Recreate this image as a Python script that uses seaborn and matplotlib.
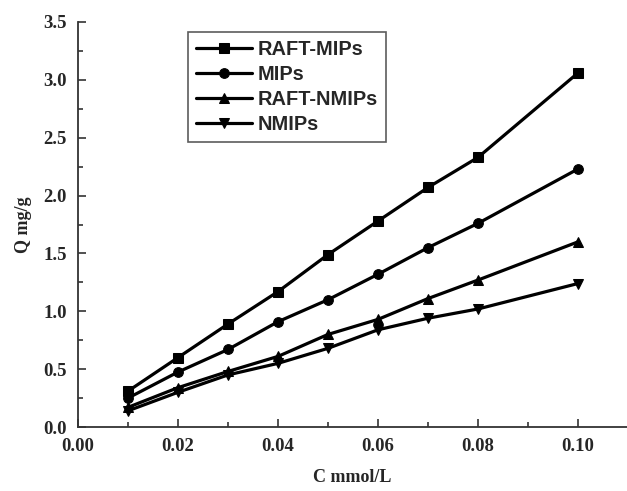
import numpy as np
import pandas as pd
import matplotlib
matplotlib.use("Agg")
import matplotlib.pyplot as plt
import seaborn as sns
from matplotlib.ticker import MultipleLocator

conc = [0.01, 0.02, 0.03, 0.04, 0.05, 0.06, 0.07, 0.08, 0.10]
raft_mips = [0.31, 0.60, 0.89, 1.17, 1.49, 1.78, 2.07, 2.33, 3.06]
mips = [0.25, 0.475, 0.67, 0.91, 1.10, 1.32, 1.55, 1.76, 2.23]
raft_nmips = [0.17, 0.34, 0.48, 0.61, 0.80, 0.93, 1.11, 1.27, 1.60]
nmips = [0.14, 0.30, 0.45, 0.55, 0.68, 0.84, 0.94, 1.02, 1.24]
series_names = ["RAFT-MIPs", "MIPs", "RAFT-NMIPs", "NMIPs"]
xtick_labels = ["0.00", "0.02", "0.04", "0.06", "0.08", "0.10"]
ytick_labels = ["0.0", "0.5", "1.0", "1.5", "2.0", "2.5", "3.0", "3.5"]

df = pd.concat([
    pd.DataFrame({"C": conc, "Q": vals, "series": name})
    for name, vals in zip(series_names, [raft_mips, mips, raft_nmips, nmips])
])

sns.set_style("ticks")
fig = plt.figure(figsize=(6.27, 4.91), dpi=100)
ax = fig.add_axes([78/627, 64/491, 549/627, 405/491])

markers = {"RAFT-MIPs": "s", "MIPs": "o", "RAFT-NMIPs": "^", "NMIPs": "v"}
sns.lineplot(data=df, x="C", y="Q", hue="series", style="series",
             markers=markers, dashes=False, palette=["black"]*4,
             hue_order=series_names, style_order=series_names,
             linewidth=2.3, markersize=7, markeredgecolor="black", ax=ax)

ax.set_xlim(0, 0.1098)
ax.set_ylim(0, 3.5)
ax.set_xticks([float(t) for t in xtick_labels])
ax.set_xticklabels(xtick_labels)
ax.set_yticks([float(t) for t in ytick_labels])
ax.set_yticklabels(ytick_labels)
ax.xaxis.set_minor_locator(MultipleLocator(0.01))
ax.yaxis.set_minor_locator(MultipleLocator(0.25))

for lab in ax.get_xticklabels() + ax.get_yticklabels():
    lab.set_fontfamily("Liberation Serif")
    lab.set_fontweight("bold")
    lab.set_fontsize(13.5)

ax.tick_params(which="major", direction="in", length=6, width=1.2, color="#333333", pad=8)
ax.tick_params(which="minor", direction="in", length=3.5, width=1.2, color="#333333")
for s in ["top", "right"]:
    ax.spines[s].set_visible(False)
for s in ["left", "bottom"]:
    ax.spines[s].set_linewidth(1.3)
    ax.spines[s].set_color("#333333")

ax.set_xlabel("C mmol/L", fontfamily="Liberation Serif", fontweight="bold", fontsize=13, labelpad=10)
ax.set_ylabel("Q mg/g", fontfamily="Liberation Serif", fontweight="bold", fontsize=13, labelpad=8)

leg = ax.legend(loc="upper left", bbox_to_anchor=(0.2, 0.975), borderaxespad=0,
                frameon=True, fancybox=False, edgecolor="#333333", handlelength=2.8,
                handletextpad=0.3, borderpad=0.4, labelspacing=0.3,
                prop={"family": "Liberation Sans", "weight": "bold", "size": 14.4},
                markerscale=1.0)
leg.get_frame().set_linewidth(1.2)

fig.savefig("out.png", dpi=100)
